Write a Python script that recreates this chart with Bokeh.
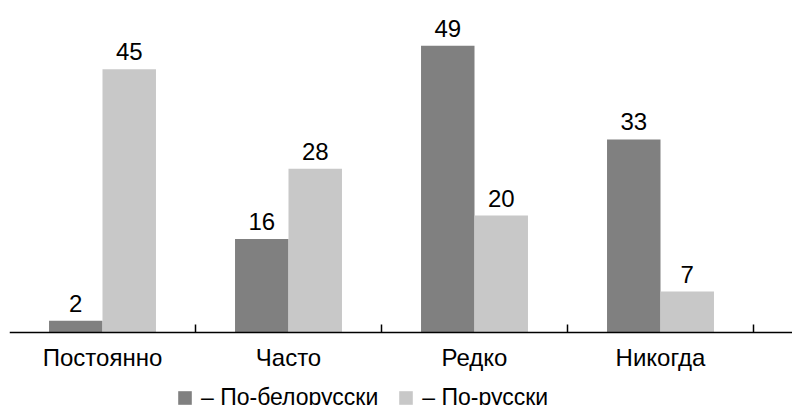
from bokeh.plotting import figure
from bokeh.models import (ColumnDataSource, Range1d, LabelSet, Span,
                          Legend, LegendItem)
from bokeh.core.properties import value
from bokeh.embed import file_html
from bokeh.resources import INLINE

# Survey answers (%), by language
categories = ["Постоянно", "Часто", "Редко", "Никогда"]
belarusian = [2, 16, 49, 33]
russian = [45, 28, 20, 7]
series_names = ["– По-белорусски", "– По-русски"]

DARK = "#808080"
LIGHT = "#c8c8c8"
FONT = "Liberation Sans"
BAR_W = 0.2875
PX_PER_UNIT = 5.85          # vertical scale of the value axis
TICK_LEN = 8 / PX_PER_UNIT  # short upward ticks on the category axis

centers = [i + 0.5 for i in range(len(categories))]
bounds = [i + 1 for i in range(len(categories))]

src_by = ColumnDataSource(dict(
    x=[c - BAR_W / 2 for c in centers], top=belarusian,
    label=[str(v) for v in belarusian]))
src_ru = ColumnDataSource(dict(
    x=[c + BAR_W / 2 for c in centers], top=russian,
    label=[str(v) for v in russian]))
src_cat = ColumnDataSource(dict(x=centers, y=[0] * len(centers),
                                label=categories))

# The plotting frame covers the whole page right of a thin left border;
# the category axis is drawn at y = 0 inside it.
p = figure(width=792, height=405, output_backend="svg", toolbar_location=None,
           x_range=Range1d(0, 783 / 186),
           y_range=Range1d(-73 / PX_PER_UNIT, 332 / PX_PER_UNIT),
           min_border_left=9, min_border_right=0, min_border_top=0,
           min_border_bottom=0, x_axis_location=None, y_axis_location=None)
p.outline_line_color = None
p.grid.visible = False
p.background_fill_color = "white"
p.border_fill_color = "white"

r_by = p.vbar(x="x", top="top", width=BAR_W, source=src_by,
              fill_color=DARK, line_color=None)
r_ru = p.vbar(x="x", top="top", width=BAR_W, source=src_ru,
              fill_color=LIGHT, line_color=None)

# Category axis: base line, boundary ticks, labels
p.add_layout(Span(location=0, dimension="width", line_color="black",
                  line_width=1.5))
p.segment(x0=bounds, y0=[0] * len(bounds), x1=bounds,
          y1=[TICK_LEN] * len(bounds), line_color="black", line_width=1.5)
p.add_layout(LabelSet(x="x", y="y", text="label", source=src_cat,
                      text_align="center", text_baseline="alphabetic",
                      y_offset=-33, text_font=value(FONT),
                      text_font_size="24px", text_color="black"))

# Value labels above the bars
for src in (src_by, src_ru):
    p.add_layout(LabelSet(x="x", y="top", text="label", source=src,
                          text_align="center", text_baseline="alphabetic",
                          y_offset=9, text_font=value(FONT),
                          text_font_size="24px", text_color="black"))

legend = Legend(items=[LegendItem(label=series_names[0], renderers=[r_by]),
                       LegendItem(label=series_names[1], renderers=[r_ru])],
                orientation="horizontal", location=(167, -6),
                glyph_width=17, glyph_height=17, label_standoff=8,
                spacing=19, padding=0, margin=0, border_line_color=None,
                background_fill_alpha=0, label_text_font=FONT,
                label_text_font_size="23px", label_text_color="black")
p.add_layout(legend, "center")

open("out.html", "w").write(file_html(p, INLINE))
